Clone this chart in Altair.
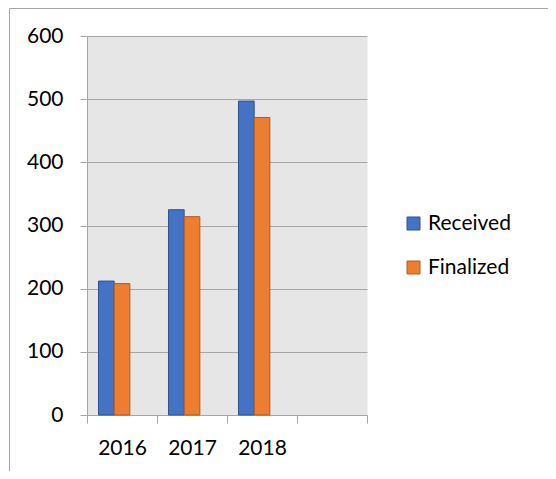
import altair as alt
import pandas as pd

years = ["2016", "2017", "2018"]
received = [212, 325, 497]
finalized = [208, 314, 471]
series = ["Received", "Finalized"]
fill_colors = ["#4472C4", "#ED7D31"]
edge_colors = ["#2F528F", "#AE5A21"]
x_domain = ["2016", "2017", "2018", "blank"]
y_ticks = [0, 100, 200, 300, 400, 500, 600]

rows = []
for i, y in enumerate(years):
    rows.append({"year": y, "series": "Received", "value": received[i]})
    rows.append({"year": y, "series": "Finalized", "value": finalized[i]})
df = pd.DataFrame(rows)

FONT = "Lato"
GRAY = "#A6A6A6"

legend_kw = dict(title=None, orient="none", legendX=316, legendY=177,
                 symbolType="square", symbolSize=169, symbolStrokeWidth=1,
                 labelFont=FONT, labelFontSize=21, labelColor="#000000",
                 rowPadding=22, labelOffset=4, padding=0)

bars = alt.Chart(df).mark_bar(strokeWidth=1).encode(
    x=alt.X("year:N", sort=x_domain,
            scale=alt.Scale(domain=x_domain, paddingInner=0, paddingOuter=0),
            axis=alt.Axis(title=None, labelAngle=0, tickBand="extent",
                          labelExpr="datum.value == 'blank' ? '' : datum.value",
                          tickSize=8, tickColor=GRAY, domainColor=GRAY,
                          labelFont=FONT, labelFontSize=21, labelColor="#000000",
                          labelPadding=14, grid=False)),
    xOffset=alt.XOffset("series:N",
                        scale=alt.Scale(domain=["Received", "Finalized", "pad"],
                                        paddingInner=0, paddingOuter=0.734)),
    y=alt.Y("value:Q",
            scale=alt.Scale(domain=[0, 600], nice=False),
            axis=alt.Axis(title=None, values=y_ticks, tickSize=7, tickColor=GRAY,
                          domainColor=GRAY, gridColor=GRAY, grid=True,
                          labelFont=FONT, labelFontSize=21, labelColor="#000000",
                          labelPadding=17)),
    color=alt.Color("series:N",
                    scale=alt.Scale(domain=series, range=fill_colors),
                    legend=alt.Legend(**legend_kw)),
    stroke=alt.Stroke("series:N",
                      scale=alt.Scale(domain=series, range=edge_colors),
                      legend=alt.Legend(**legend_kw)),
)

frame_df = pd.DataFrame({"a": [0]})
frame_top = alt.Chart(frame_df).mark_rule(color=GRAY, strokeWidth=1).encode(
    x=alt.value(-77.5), x2=alt.value(470), y=alt.value(-27.5))
frame_left = alt.Chart(frame_df).mark_rule(color=GRAY, strokeWidth=1).encode(
    x=alt.value(-77.5), y=alt.value(-27.5), y2=alt.value(440))

chart = alt.layer(bars, frame_top, frame_left).properties(
    width=280, height=379,
    autosize=alt.AutoSizeParams(type="none"),
    padding={"left": 79, "top": 28, "right": 181, "bottom": 56},
    background="#FFFFFF",
).configure_view(fill="#E6E6E6", stroke="transparent")

chart.save("out.html", embed_options={"renderer": "svg", "actions": False})
